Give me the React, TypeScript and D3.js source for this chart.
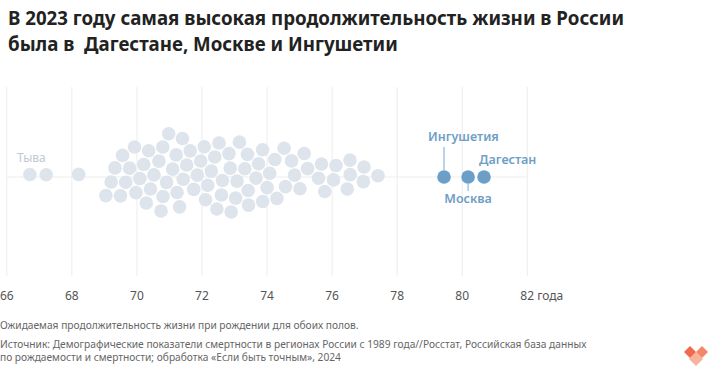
import { useEffect, useRef } from 'react';
import * as d3 from 'd3';

// ожидаемая продолжительность жизни, 2023, регионы (серые точки)
const regionValues: number[] = [
  66.71, 67.21, 68.21,
  69.09, 69.23, 69.34, 69.48, 69.62, 69.70, 69.81, 69.87, 69.99,
  70.07, 70.18, 70.28, 70.36, 70.46, 70.55, 70.65, 70.75, 70.77, 70.85, 70.93,
  71.02, 71.12, 71.12, 71.22, 71.30, 71.39, 71.49, 71.59, 71.69, 71.78, 71.86, 71.96,
  72.04, 72.06, 72.16, 72.25, 72.33, 72.43, 72.51, 72.62, 72.72, 72.82, 72.92, 72.96,
  73.01, 73.09, 73.19, 73.27, 73.37, 73.45, 73.48, 73.56, 73.66, 73.82, 73.85, 73.93,
  74.03, 74.24, 74.32, 74.52, 74.60, 74.79, 74.83, 74.99,
  75.07, 75.30, 75.57, 75.65, 75.77,
  76.04, 76.10, 76.47, 76.55, 76.55, 76.96, 76.98,
  77.41,
];

// выделенные регионы
const leaderNames = ['Ингушетия', 'Москва', 'Дагестан'];
const leaderValues = [79.44, 80.18, 80.67];

const tyvaValue = 66.71;

const tickValues = [66, 68, 70, 72, 74, 76, 78, 80, 82];

const titleLines = [
  'В 2023 году самая высокая продолжительность жизни в России',
  'была в  Дагестане, Москве и Ингушетии',
];
const noteLines = [
  'Ожидаемая продолжительность жизни при рождении для обоих полов.',
  'Источник: Демографические показатели смертности в регионах России с 1989 года//Росстат, Российская база данных',
  'по рождаемости и смертности; обработка «Если быть точным», 2024',
];

const FONT = '"Noto Sans", sans-serif';

export default function App() {
  const ref = useRef<SVGSVGElement | null>(null);

  useEffect(() => {
    const width = 710;
    const height = 366;
    const cy = 177;
    const r = 6.8;

    const svg = d3.select(ref.current);
    svg.selectAll('*').remove();
    svg.attr('width', width).attr('height', height);

    // Заголовок
    svg.append('g')
      .selectAll('text')
      .data(titleLines)
      .enter().append('text')
      .attr('x', 8)
      .attr('y', (d, i) => 25 + i * 26)
      .attr('font-family', FONT)
      .attr('font-size', 18.7)
      .attr('font-weight', 700)
      .attr('fill', '#222')
      .style('white-space', 'pre')
      .text(d => d);

    const x = d3.scaleLinear().domain([66, 82]).range([6.8, 527.3]);

    // Сетка
    svg.append('g')
      .selectAll('line')
      .data(tickValues)
      .enter().append('line')
      .attr('x1', d => x(d)).attr('x2', d => x(d))
      .attr('y1', 87).attr('y2', 276)
      .attr('stroke', '#ededed')
      .attr('stroke-width', 1);

    svg.append('line')
      .attr('x1', x(66)).attr('x2', x(82))
      .attr('y1', cy).attr('y2', cy)
      .attr('stroke', '#ededed');

    // Подписи оси
    svg.append('g')
      .selectAll('text')
      .data(tickValues)
      .enter().append('text')
      .attr('x', d => x(d))
      .attr('y', 300)
      .attr('font-family', FONT)
      .attr('font-size', 12)
      .attr('fill', '#555')
      .attr('text-anchor', d => (d === 82 ? 'start' : 'middle'))
      .attr('dx', d => (d === 82 ? -7 : 0))
      .text(d => (d === 82 ? `${d} года` : String(d)));

    // Beeswarm
    type Node = { v: number; hl: boolean; x?: number; y?: number; fx?: number; fy?: number; tx: number };
    const nodes: Node[] = [
      ...regionValues.map(v => ({ v, hl: false, tx: x(v) })),
      // лидеры стоят на центральной линии
      ...leaderValues.map(v => ({ v, hl: true, tx: x(v), fx: x(v), fy: cy })),
    ];
    const sim = d3.forceSimulation(nodes as any)
      .force('x', d3.forceX<any>(d => d.tx).strength(1))
      .force('y', d3.forceY(cy).strength(0.06))
      .force('collide', d3.forceCollide(r + 0.5).iterations(4))
      .stop();
    for (let i = 0; i < 500; i++) sim.tick();

    svg.append('g')
      .selectAll('circle')
      .data(nodes)
      .enter().append('circle')
      .attr('cx', d => d.x as number)
      .attr('cy', d => d.y as number)
      .attr('r', r)
      .attr('fill', d => (d.hl ? '#6b9fc8' : '#dee4ec'));

    // Тыва
    svg.append('text')
      .attr('x', x(tyvaValue) - 13)
      .attr('y', 162)
      .attr('font-family', FONT)
      .attr('font-size', 12)
      .attr('fill', '#bfc9d5')
      .text('Тыва');

    // Подписи лидеров
    const lbl = svg.append('g')
      .attr('font-family', FONT)
      .attr('font-size', 12.5)
      .attr('font-weight', 600)
      .attr('fill', '#6f9ec6');

    const xi = x(leaderValues[0]);
    const xm = x(leaderValues[1]);
    const xd = x(leaderValues[2]);

    lbl.append('line')
      .attr('x1', xi).attr('x2', xi)
      .attr('y1', 147).attr('y2', cy - r)
      .attr('stroke', '#a8c5df').attr('stroke-width', 1.5);
    lbl.append('text')
      .attr('x', xi - 16).attr('y', 141)
      .text(leaderNames[0]);

    lbl.append('line')
      .attr('x1', xm).attr('x2', xm)
      .attr('y1', cy + r).attr('y2', 191)
      .attr('stroke', '#a8c5df').attr('stroke-width', 1.5);
    lbl.append('text')
      .attr('x', xm).attr('y', 203)
      .attr('text-anchor', 'middle')
      .text(leaderNames[1]);

    lbl.append('text')
      .attr('x', xd - 5).attr('y', 164)
      .text(leaderNames[2]);

    // Примечания
    svg.append('g')
      .selectAll('text')
      .data(noteLines)
      .enter().append('text')
      .attr('x', 0)
      .attr('y', (d, i) => (i === 0 ? 329 : 348 + (i - 1) * 13))
      .attr('font-family', FONT)
      .attr('font-size', 10.2)
      .attr('fill', '#666')
      .text(d => d);

    // Логотип
    const logo = svg.append('g').attr('transform', 'translate(696,352)');
    const diamond = (cx: number, cyy: number, s: number) =>
      `M${cx},${cyy - s}L${cx + s},${cyy}L${cx},${cyy + s}L${cx - s},${cyy}Z`;
    logo.append('path').attr('d', diamond(0, 7, 7)).attr('fill', '#f9b39b');
    logo.append('path').attr('d', diamond(-6, 0, 6)).attr('fill', '#f06b4e');
    logo.append('path').attr('d', diamond(6, 0, 6)).attr('fill', '#f4876a');
  }, []);

  return (
    <svg ref={ref} style={{ position: 'absolute', left: 0, top: 0, background: '#fff' }}></svg>
  );
}
